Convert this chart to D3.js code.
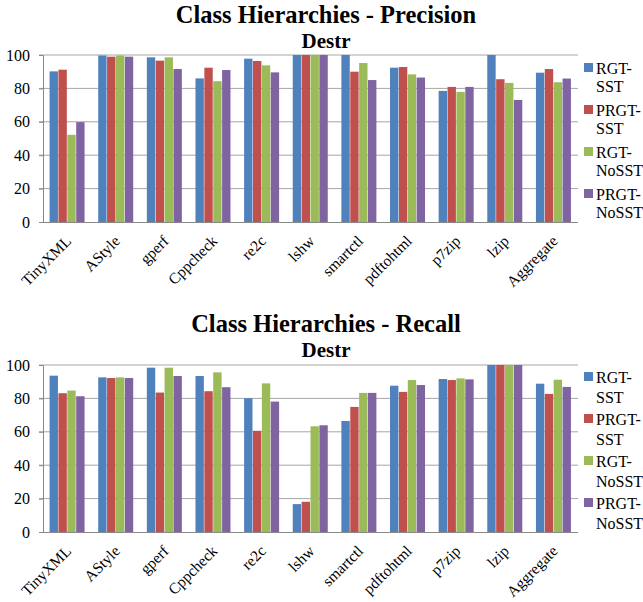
<!DOCTYPE html>
<html>
<head>
<meta charset="utf-8">
<script src="https://cdn.jsdelivr.net/npm/d3@7"></script>
<style>
  html, body { margin: 0; padding: 0; background: #fff; }
  svg { display: block; font-family: "Liberation Serif", "Times New Roman", serif; }
</style>
</head>
<body>
<svg id="chart" width="643" height="602"></svg>
<script>
// Benchmarks and series
const categories = ["TinyXML", "AStyle", "gperf", "Cppcheck", "re2c", "lshw", "smartctl", "pdftohtml", "p7zip", "lzip", "Aggregate"];
const seriesNames = ["RGT-SST", "PRGT-SST", "RGT-NoSST", "PRGT-NoSST"];
const seriesColors = ["#4F81BD", "#C0504D", "#9BBB59", "#8064A2"];
const yTicks = [0, 20, 40, 60, 80, 100];

// Precision per series, one value per benchmark
const precisionRGTSST    = [90.2, 99.7, 98.6, 86.0, 97.8, 100, 100.0, 92.4, 78.5, 100.0, 89.4];
const precisionPRGTSST   = [91.2, 99.0, 96.6, 92.4, 96.4, 100,  90.0, 92.8, 80.9,  85.5, 91.6];
const precisionRGTNoSST  = [52.2, 99.7, 98.6, 84.3, 93.8, 100,  95.2, 88.4, 77.9,  83.3, 83.7];
const precisionPRGTNoSST = [59.8, 99.0, 91.6, 91.0, 89.6, 100,  85.0, 86.5, 80.9,  73.1, 85.9];

// Recall per series, one value per benchmark
const recallRGTSST    = [93.6, 92.6, 98.4, 93.4, 80.1, 16.7, 66.5, 87.6, 91.6, 100, 88.8];
const recallPRGTSST   = [83.1, 92.2, 83.5, 84.3, 60.6, 18.1, 74.9, 83.9, 91.0, 100, 82.7];
const recallRGTNoSST  = [84.7, 92.6, 98.4, 95.6, 89.0, 63.3, 83.3, 91.0, 92.0, 100, 91.2];
const recallPRGTNoSST = [81.3, 92.2, 93.4, 86.7, 78.1, 63.9, 83.3, 88.0, 91.4, 100, 86.9];

const svg = d3.select("#chart");
const FONT = "Liberation Serif";

function drawPanel(cfg) {
  const { title, subtitle, series, top } = cfg;
  const plotLeft = 43, plotRight = 578;
  const y0 = top + 167, y100 = top;

  const g = svg.append("g");

  g.append("text")
    .attr("x", 326).attr("y", cfg.titleY)
    .attr("text-anchor", "middle")
    .style("font-family", FONT)
    .style("font-size", "24.5px").style("font-weight", "bold")
    .text(title);
  g.append("text")
    .attr("x", 326).attr("y", cfg.subtitleY)
    .attr("text-anchor", "middle")
    .style("font-family", FONT)
    .style("font-size", "21px").style("font-weight", "bold")
    .text(subtitle);

  const x = d3.scaleBand().domain(categories).range([plotLeft, plotRight]).paddingInner(0.27).paddingOuter(0.135);
  const xs = d3.scaleBand().domain(seriesNames).range([0, x.bandwidth()]);
  const y = d3.scaleLinear().domain([0, 100]).range([y0, y100]);

  // gridlines
  g.append("g").selectAll("line").data(yTicks.filter(t => t > 0)).join("line")
    .attr("x1", plotLeft - 4).attr("x2", plotRight)
    .attr("y1", d => y(d)).attr("y2", d => y(d))
    .attr("stroke", "#a6a6a6").attr("stroke-width", 1);

  // y axis
  const yAxis = d3.axisLeft(y).tickValues(yTicks).tickSize(4).tickPadding(9);
  const ya = g.append("g").attr("transform", `translate(${plotLeft},0)`).call(yAxis)
    .attr("font-family", FONT).attr("font-size", 16);
  ya.select(".domain").attr("stroke", "#888");
  ya.selectAll(".tick line").attr("stroke", "#888");
  ya.selectAll(".tick text").attr("fill", "#000");

  // bars
  const groups = g.append("g").selectAll("g").data(categories).join("g")
    .attr("transform", d => `translate(${x(d)},0)`);
  groups.selectAll("rect").data((c, i) => seriesNames.map((s, k) => ({ s, k, v: series[k][i] })))
    .join("rect")
    .attr("x", d => xs(d.s))
    .attr("width", xs.bandwidth() - 0.5)
    .attr("y", d => y(d.v))
    .attr("height", d => y0 - y(d.v))
    .attr("fill", d => seriesColors[d.k]);

  // x axis line
  g.append("line")
    .attr("x1", plotLeft).attr("x2", plotRight)
    .attr("y1", y0 + 0.5).attr("y2", y0 + 0.5)
    .attr("stroke", "#888");

  // rotated category labels
  g.append("g").attr("class", "cat-labels").selectAll("text").data(categories).join("text")
    .attr("transform", d => `translate(${x(d) + x.bandwidth() / 2 + 5},${y0 + 20}) rotate(-45)`)
    .attr("text-anchor", "end")
    .style("font-family", FONT)
    .style("font-size", "15.5px")
    .attr("fill", "#000")
    .text(d => d);

  // legend
  const leg = g.append("g").selectAll("g").data(seriesNames).join("g")
    .attr("transform", (d, i) => `translate(584,${cfg.legendY + i * cfg.legendStep})`);
  leg.append("rect").attr("x", 0).attr("y", -5).attr("width", 9).attr("height", 9)
    .attr("fill", (d, i) => seriesColors[i]);
  leg.each(function (d) {
    const parts = d.split("-");
    const t = d3.select(this).append("text").attr("x", 12).attr("y", 5.5)
      .style("font-family", FONT)
      .style("font-size", "16px");
    t.append("tspan").attr("x", 12).text(parts[0] + "-");
    t.append("tspan").attr("x", 12).attr("dy", cfg.lineStep).text(parts[1]);
  });
}

drawPanel({
  title: "Class Hierarchies - Precision", subtitle: "Destr",
  series: [precisionRGTSST, precisionPRGTSST, precisionRGTNoSST, precisionPRGTNoSST],
  top: 55, titleY: 23, subtitleY: 48,
  legendY: 68, legendStep: 42, lineStep: 18
});

drawPanel({
  title: "Class Hierarchies - Recall", subtitle: "Destr",
  series: [recallRGTSST, recallPRGTSST, recallRGTNoSST, recallPRGTNoSST],
  top: 365, titleY: 332, subtitleY: 357,
  legendY: 377, legendStep: 42, lineStep: 20
});
</script>
</body>
</html>
